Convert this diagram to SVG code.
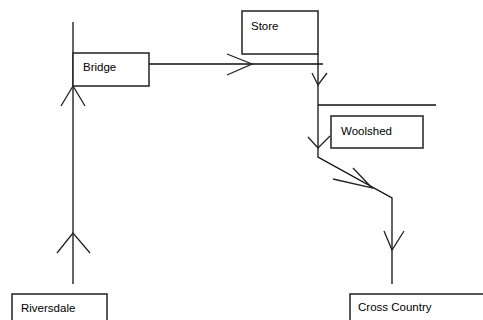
<svg xmlns="http://www.w3.org/2000/svg" width="483" height="320" viewBox="0 0 483 320">
<style>
.box{fill:#fff;stroke:#222;stroke-width:1.5}
.lbl{font-family:"Liberation Sans",Arial,sans-serif;font-size:11.5px;fill:#000}
.ln{fill:none;stroke:#111;stroke-width:1.3}
.ah{fill:none;stroke:#222;stroke-width:1.3}
</style>
<rect width="483" height="320" fill="#fff"/>
<g id="connectors">
<path class="ln" d="M73,22 V284"/>
<path class="ah" d="M57,253 L73,233 L90,253"/>
<path class="ah" d="M61,106 L73,86 L85,106"/>
<path class="ln" d="M149,64 H323"/>
<path class="ah" d="M227,54 L252,64 L227,75"/>
<path class="ln" d="M318,54 V157 L392,198 V284"/>
<path class="ah" d="M312,73 L318,85 L327,73"/>
<path class="ln" d="M318,105 H436"/>
<path class="ah" d="M308,137 L318,148 L330,136"/>
<path class="ah" d="M333,179 L372,188 L353,168"/>
<path class="ah" d="M384,231 L392,250 L404,231"/>
</g>
<g id="bridge">
<rect class="box" x="73" y="53" width="76" height="33"/>
<text class="lbl" x="83" y="71">Bridge</text>
</g>
<g id="store">
<rect class="box" x="242" y="11" width="76" height="43"/>
<text class="lbl" x="251" y="30">Store</text>
</g>
<g id="woolshed">
<rect class="box" x="331" y="116" width="92" height="32"/>
<text class="lbl" x="341" y="135">Woolshed</text>
</g>
<g id="riversdale">
<rect class="box" x="12" y="294" width="95" height="40"/>
<text class="lbl" x="21" y="312">Riversdale</text>
</g>
<g id="crosscountry">
<rect class="box" x="350" y="294" width="150" height="40"/>
<text class="lbl" x="358" y="311">Cross Country</text>
</g>
</svg>
